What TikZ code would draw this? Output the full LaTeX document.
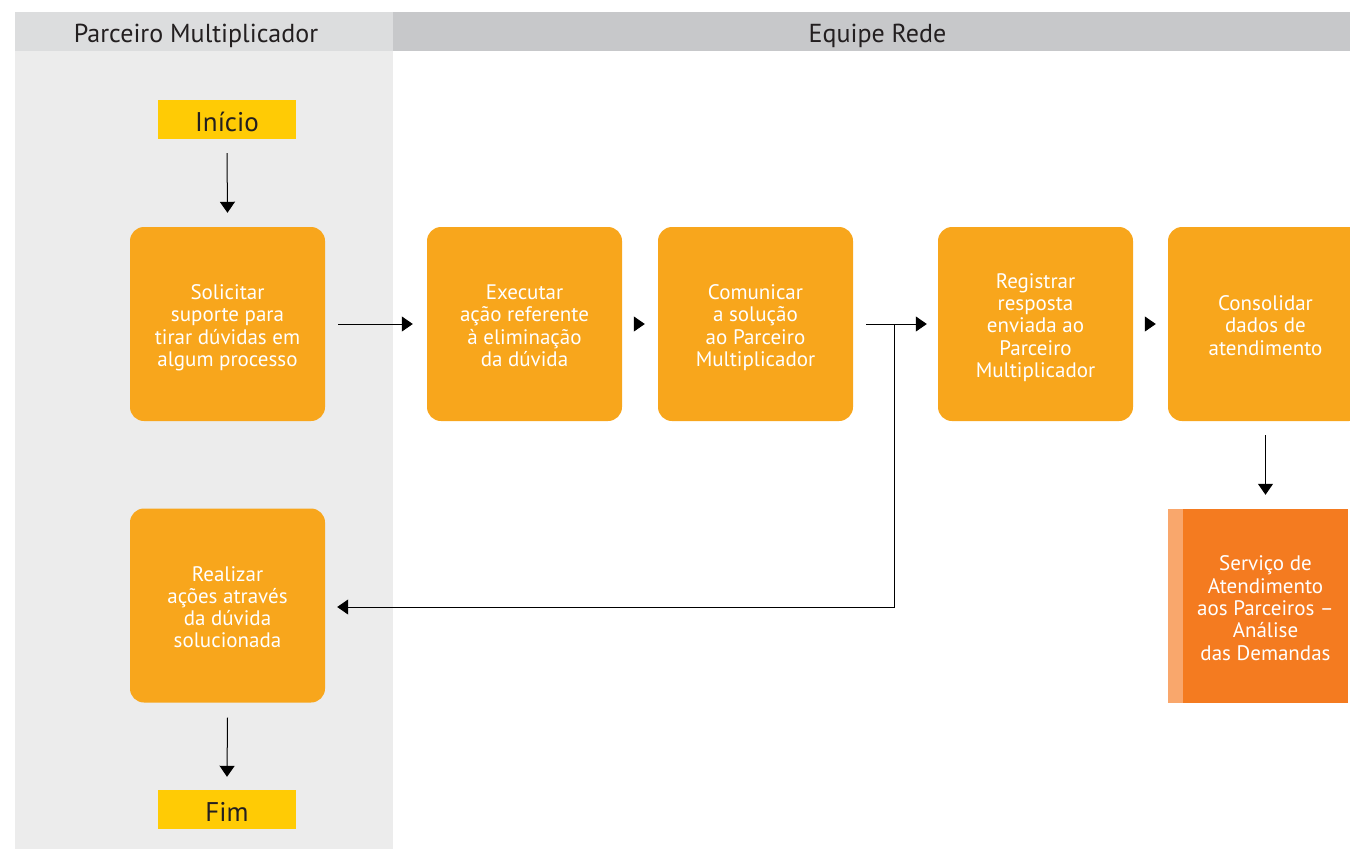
\documentclass[tikz,border=0pt]{standalone}
\usepackage{fontspec}
\setmainfont{PT Sans}
\usetikzlibrary{arrows.meta}

\definecolor{lanegray}{HTML}{ECECEC}
\definecolor{headlight}{HTML}{DCDDDE}
\definecolor{headdark}{HTML}{C7C8CA}
\definecolor{procorange}{HTML}{F8A61C}
\definecolor{termyellow}{HTML}{FFCB05}
\definecolor{servorange}{HTML}{F47B20}
\definecolor{servstrip}{HTML}{F9A76C}
\definecolor{textdark}{HTML}{231F20}

% lower content visually while keeping its natural height and depth
\newcommand{\lowered}[2]{\raisebox{-#1}[\height][\depth]{#2}}
% centred block of lines, lowered slightly inside its box
\newcommand{\boxlines}[2][4.5pt]{\lowered{#1}{\begin{tabular}{@{}c@{}}#2\end{tabular}}}

\tikzset{
  lanehead/.style={minimum height=39pt, inner sep=0pt, text=textdark,
    font=\fontsize{26}{30}\selectfont},
  proc/.style={rounded corners=14pt, fill=procorange, text=white,
    minimum width=195pt, minimum height=194pt, inner sep=0pt,
    font=\fontsize{21}{22.3}\selectfont},
  term/.style={fill=termyellow, text=textdark, minimum width=138pt,
    minimum height=39pt, inner sep=0pt, font=\fontsize{27}{30}\selectfont},
  servbox/.style={fill=servorange, minimum width=180pt, minimum height=194pt,
    inner sep=0pt,
    path picture={\fill[servstrip] (path picture bounding box.south west)
      rectangle ([xshift=15pt]path picture bounding box.north west);}},
  servtext/.style={text=white, inner sep=0pt,
    font=\fontsize{21}{22.3}\selectfont},
  flow/.style={-{Triangle[length=11pt,width=15pt]}, line width=1pt, draw=black}
}

\begin{document}
\begin{tikzpicture}[x=1pt,y=-1pt]
\useasboundingbox (0,0) rectangle (1350,849);
\clip (0,0) rectangle (1350,849);

% swimlanes
\fill[lanegray] (15,12) rectangle (393,849);
\node[lanehead, fill=headlight, minimum width=378pt] (h1) at (204,31.5) {\hspace*{-16pt}\lowered{4pt}{Parceiro Multiplicador}};
\node[lanehead, fill=headdark, minimum width=957pt] (h2) at (871.5,31.5) {\hspace*{12pt}\lowered{4pt}{Equipe Rede}};

% terminals
\node[term] (ini) at (227,119.5) {\lowered{2.5pt}{Início}};
\node[term] (fim) at (227,809.5) {\lowered{2.5pt}{Fim}};

% process steps
\node[proc] (s1) at (227.5,324) {\boxlines{Solicitar\\suporte para\\tirar dúvidas em\\algum processo}};
\node[proc] (s2) at (524.5,324) {\boxlines{Executar\\ação referente\\à eliminação\\da dúvida}};
\node[proc] (s3) at (755.5,324) {\boxlines{Comunicar\\a solução\\ao Parceiro\\Multiplicador}};
\node[proc] (s4) at (1035.5,324) {\boxlines{Registrar\\resposta\\enviada ao\\Parceiro\\Multiplicador}};
\node[proc] (s5) at (1265.5,324) {\boxlines{Consolidar\\dados de\\atendimento}};
\node[proc] (r1) at (227.5,605.5) {\boxlines{Realizar\\ações através\\da dúvida\\solucionada}};

% service block
\node[servbox] (d1) at (1258,606) {};
\node[servtext] (d1t) at ([xshift=7.5pt]d1.center) {\boxlines[5pt]{Serviço de\\Atendimento\\aos Parceiros –\\Análise\\das Demandas}};

% connectors
\draw[flow] ([yshift=-14pt]ini.south) -- ([yshift=14pt]s1.north);
\draw[flow] ([xshift=13pt]s1.east) -- ([xshift=-14pt]s2.west);
\draw[flow] ([xshift=12pt]s2.east) -- ([xshift=-13pt]s3.west);
\draw[flow] ([xshift=13pt]s3.east) -- ([xshift=-11pt]s4.west);
\draw[flow] ([xshift=13pt]s4.east) -- ([xshift=-12pt]s5.west);
\draw[flow] ([yshift=-14pt]s5.south) -- ([yshift=14pt]d1.north -| s5.south);
\draw[flow] ([yshift=-15pt]r1.south) -- ([yshift=13pt]fim.north);

\coordinate (j) at ([xshift=41pt]s3.east);
\draw[flow] (j) |- ([xshift=12pt,yshift=-1.5pt]r1.east);
\end{tikzpicture}
\end{document}
